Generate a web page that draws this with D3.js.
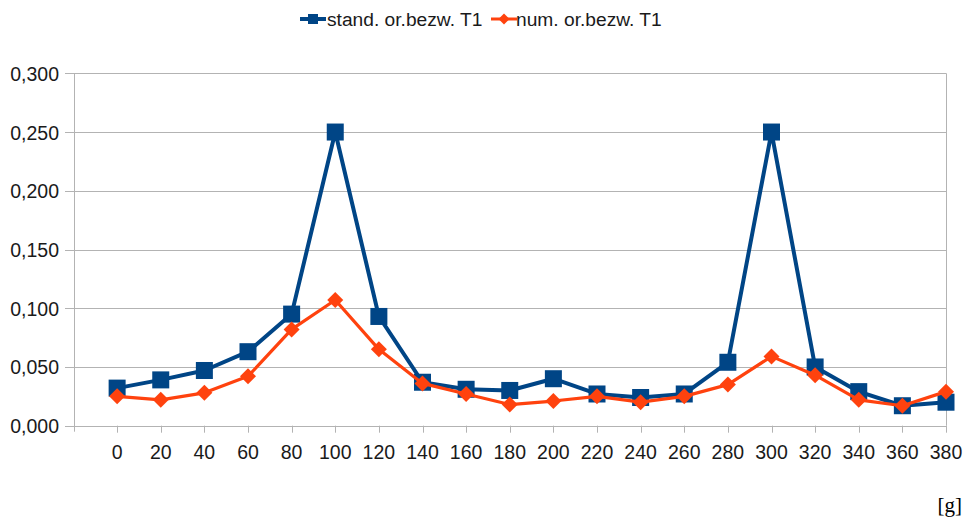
<!DOCTYPE html>
<html><head><meta charset="utf-8">
<script src="https://cdn.jsdelivr.net/npm/d3@7"></script>
<style>body{margin:0;background:#fff}svg{display:block}</style>
</head><body><svg id="c" width="964" height="520"></svg>
<script>
const categories = [0,20,40,60,80,100,120,140,160,180,200,220,240,260,280,300,320,340,360,380];
const standValues = [0.032,0.039,0.047,0.063,0.095,0.250,0.093,0.037,0.031,0.030,0.040,0.027,0.024,0.027,0.054,0.250,0.050,0.029,0.017,0.020];
const numValues = [0.025,0.022,0.028,0.042,0.082,0.107,0.065,0.036,0.027,0.018,0.021,0.025,0.020,0.025,0.035,0.059,0.043,0.022,0.017,0.029];
const yTicks = [0,0.05,0.1,0.15,0.2,0.25,0.3];
const seriesNames = ["stand. or.bezw. T1","num. or.bezw. T1"];
const colors = ["#004586","#ff420e"];
const unitLabel = "[g]";

const svg = d3.select("#c");
const font = "'Liberation Sans', Arial, sans-serif";
const x = d3.scaleLinear().domain([-20,380]).range([73.5,946]);
const y = d3.scaleLinear().domain([0,0.3]).range([425.7,73.3]);
const grid = "#b3b3b3";

yTicks.forEach(t=>{
  svg.append("line").attr("x1",65).attr("x2",x(380)).attr("y1",Math.round(y(t))+0.5).attr("y2",Math.round(y(t))+0.5)
    .attr("stroke",grid).attr("stroke-width",1);
  svg.append("text").attr("x",59).attr("y",y(t)+7.5).attr("text-anchor","end")
    .attr("font-family",font).attr("font-size",19.5).attr("fill","#1a1a1a")
    .text(d3.format(".3f")(t).replace(".",","));
});
svg.append("line").attr("x1",Math.round(x(380))+0.5).attr("x2",Math.round(x(380))+0.5).attr("y1",y(0.3)).attr("y2",y(0))
  .attr("stroke",grid);
svg.append("line").attr("x1",Math.round(x(-20))+0.5).attr("x2",Math.round(x(-20))+0.5).attr("y1",y(0.3)).attr("y2",y(0)+6)
  .attr("stroke",grid);
categories.forEach(c=>{
  svg.append("line").attr("x1",Math.round(x(c))+0.5).attr("x2",Math.round(x(c))+0.5).attr("y1",y(0)).attr("y2",y(0)+7)
    .attr("stroke",grid);
  svg.append("text").attr("x",x(c)).attr("y",459).attr("text-anchor","middle")
    .attr("font-family",font).attr("font-size",19.5).attr("fill","#1a1a1a").text(c);
});

const line = d3.line().x((d,i)=>x(categories[i])).y(d=>y(d));
svg.append("path").attr("d",line(standValues)).attr("fill","none").attr("stroke",colors[0]).attr("stroke-width",4).attr("stroke-linejoin","round");
svg.selectAll(".sq").data(standValues).enter().append("rect")
  .attr("x",(d,i)=>x(categories[i])-8.5).attr("y",d=>y(d)-8.5).attr("width",17).attr("height",17).attr("fill",colors[0]);
svg.append("path").attr("d",line(numValues)).attr("fill","none").attr("stroke",colors[1]).attr("stroke-width",3.2).attr("stroke-linejoin","round");
const dia = (cx,cy,r)=>`M${cx},${cy-r}L${cx+r},${cy}L${cx},${cy+r}L${cx-r},${cy}Z`;
svg.selectAll(".dm").data(numValues).enter().append("path")
  .attr("d",(d,i)=>dia(x(categories[i]),y(d),8)).attr("fill",colors[1]);

const lg = [{x0:300, tx:327},{x0:491, tx:516}];
lg.forEach((l,k)=>{
  svg.append("line").attr("x1",l.x0).attr("x2",l.x0+26).attr("y1",19).attr("y2",19).attr("stroke",colors[k]).attr("stroke-width",k?3:4);
  if(k===0) svg.append("rect").attr("x",l.x0+8).attr("y",14).attr("width",10).attr("height",10).attr("fill",colors[0]);
  else svg.append("path").attr("d",dia(l.x0+13,19,5.5)).attr("fill",colors[1]);
  svg.append("text").attr("x",l.tx).attr("y",25.5).attr("font-family",font).attr("font-size",19.2).attr("fill","#1a1a1a").text(seriesNames[k]);
});
svg.append("text").attr("x",962).attr("y",512).attr("text-anchor","end").attr("font-family","'Liberation Serif', 'Times New Roman', serif")
  .attr("font-size",21).attr("fill","#000").text(unitLabel);
</script></body></html>
